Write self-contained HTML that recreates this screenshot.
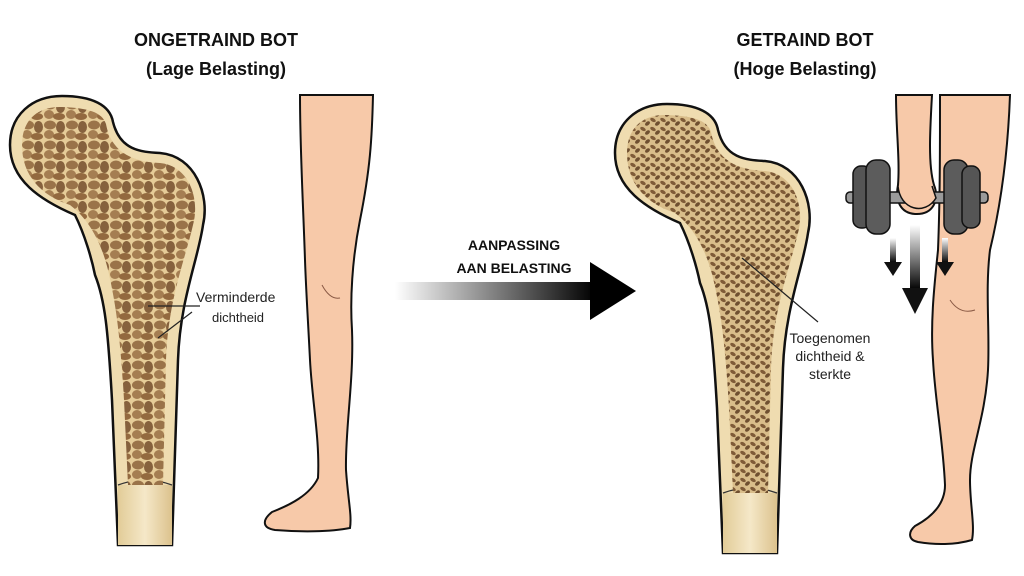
<!DOCTYPE html>
<html><head><meta charset="utf-8"><style>
html,body{margin:0;padding:0;background:#fff;width:1024px;height:576px;overflow:hidden}
svg{display:block}
text{font-family:"Liberation Sans",sans-serif}
</style></head><body>
<svg width="1024" height="576" viewBox="0 0 1024 576" xmlns="http://www.w3.org/2000/svg">
<defs>
<pattern id="sp1" width="22" height="20" patternUnits="userSpaceOnUse">
<rect width="22" height="20" fill="#e6cc98"/>
<ellipse cx="6" cy="5" rx="6" ry="4.5" fill="#9a7349"/>
<ellipse cx="16.5" cy="7" rx="4.5" ry="6" fill="#86613d"/>
<ellipse cx="5" cy="14.5" rx="5" ry="4.5" fill="#a57e52"/>
<ellipse cx="15" cy="16.5" rx="6" ry="3.5" fill="#93693f"/>
</pattern>
<pattern id="sp2" width="10" height="9" patternUnits="userSpaceOnUse">
<rect width="10" height="9" fill="#d9bd8a"/>
<ellipse cx="3" cy="3" rx="3" ry="1.8" fill="#7f5b38" transform="rotate(30 3 3)"/>
<ellipse cx="7.5" cy="6.5" rx="2.8" ry="1.8" fill="#6f4f30" transform="rotate(-40 7.5 6.5)"/>
</pattern>
<linearGradient id="ag" x1="0" x2="1" y1="0" y2="0">
<stop offset="0" stop-color="#fff"/><stop offset="1" stop-color="#000"/>
</linearGradient>
<linearGradient id="dg" x1="0" x2="0" y1="0" y2="1">
<stop offset="0" stop-color="#fff"/><stop offset="1" stop-color="#000"/>
</linearGradient>
<linearGradient id="sh" x1="0" x2="1">
<stop offset="0" stop-color="#e2cc98"/><stop offset="0.5" stop-color="#f5e8c8"/><stop offset="1" stop-color="#dcc28d"/>
</linearGradient>
<g id="bone">
<path d="M113,122 C120,150 140,152 160,153 C195,156 210,195 203,225 C198,260 180,300 178,360 L172,545 L118,545 L112,400 C108,330 105,300 95,275 C92,260 85,235 75,215 C40,200 10,180 10,145 C10,115 32,96 62,96 C92,96 110,105 113,122 Z" fill="#efdcb0" stroke="#111" stroke-width="2.5"/>
<path d="M118,485 L172,485 L172,545 L118,545 Z" fill="url(#sh)"/>
<path d="M118,485 Q145,475 172,485" fill="none" stroke="#333" stroke-width="1.2"/>
</g>
</defs>

<!-- Left bone -->
<use href="#bone"/>
<path d="M106,124 C112,157 140,162 160,163 C190,166 200,200 193,225 C185,260 168,300 166,360 L163,485 L128,485 L124,400 C120,330 115,300 108,270 C102,245 90,220 70,205 C40,195 22,175 22,145 C22,118 40,106 62,107 C88,108 102,112 106,124 Z" fill="url(#sp1)"/>

<!-- Left leg -->
<path d="M300,95 L373,95 C372,140 370,170 360,220 C352,260 350,300 352,330 C354,380 345,430 346,470 C348,500 352,515 350,528 C330,532 300,532 275,530 C262,528 262,520 272,512 C290,505 310,495 318,478 C320,440 312,400 310,360 C308,320 306,290 305,260 C303,200 300,150 300,95 Z" fill="#f7c9a9" stroke="#111" stroke-width="2"/>
<path d="M322,285 Q330,300 340,298" fill="none" stroke="#8a5a45" stroke-width="1"/>

<!-- Labels left -->
<text x="216" y="46" font-size="18" font-weight="bold" text-anchor="middle" fill="#111">ONGETRAIND BOT</text>
<text x="216" y="75" font-size="18" font-weight="bold" text-anchor="middle" fill="#111">(Lage Belasting)</text>
<text x="196" y="302" font-size="14" fill="#222">Verminderde</text>
<text x="212" y="322" font-size="13" fill="#222">dichtheid</text>
<line x1="148" y1="306" x2="200" y2="306" stroke="#222" stroke-width="1.2"/>
<line x1="192" y1="312" x2="158" y2="338" stroke="#222" stroke-width="1.2"/>

<!-- Middle arrow -->
<text x="514" y="250" font-size="14" font-weight="bold" text-anchor="middle" fill="#111">AANPASSING</text>
<text x="514" y="273" font-size="14" font-weight="bold" text-anchor="middle" fill="#111">AAN BELASTING</text>
<rect x="395" y="282" width="200" height="18" fill="url(#ag)"/>
<polygon points="590,262 636,291 590,320" fill="#000"/>

<!-- Right bone -->
<use href="#bone" transform="translate(605,8)"/>
<path d="M711,132 C717,165 745,170 765,171 C795,174 805,208 798,233 C790,268 773,308 771,368 L768,493 L733,493 L729,408 C725,338 720,308 713,278 C707,253 695,228 675,213 C645,203 627,183 627,153 C627,126 645,114 667,115 C693,116 707,120 711,132 Z" fill="url(#sp2)"/>
<text x="830" y="343" font-size="14" text-anchor="middle" fill="#222">Toegenomen</text>
<text x="830" y="361" font-size="14" text-anchor="middle" fill="#222">dichtheid &amp;</text>
<text x="830" y="379" font-size="14" text-anchor="middle" fill="#222">sterkte</text>
<line x1="742" y1="258" x2="818" y2="322" stroke="#222" stroke-width="1.2"/>

<!-- Right leg -->
<path d="M940,95 L1010,95 C1008,150 1002,200 990,250 C985,290 990,330 988,370 C985,420 970,450 970,480 C970,505 975,525 972,540 C955,545 935,545 918,542 C908,540 908,532 915,526 C930,518 945,505 945,485 C943,440 935,400 933,360 C930,320 935,280 938,250 C940,200 940,150 940,95 Z" fill="#f7c9a9" stroke="#111" stroke-width="2"/>
<path d="M950,300 Q960,315 975,310" fill="none" stroke="#8a5a45" stroke-width="1"/>
<!-- Arm -->
<path d="M896,95 L932,95 C930,130 928,165 934,185 C940,200 933,215 915,214 C900,213 895,200 898,185 C900,160 896,130 896,95 Z" fill="#f7c9a9" stroke="#111" stroke-width="2"/>

<!-- Dumbbell -->
<rect x="846" y="192" width="142" height="11" rx="4" fill="#9a9a9a" stroke="#111" stroke-width="1.5"/>
<rect x="853" y="166" width="18" height="62" rx="8" fill="#555" stroke="#111" stroke-width="1.5"/>
<rect x="866" y="160" width="24" height="74" rx="10" fill="#5c5c5c" stroke="#111" stroke-width="1.5"/>
<rect x="944" y="160" width="24" height="74" rx="10" fill="#5c5c5c" stroke="#111" stroke-width="1.5"/>
<rect x="962" y="166" width="18" height="62" rx="8" fill="#555" stroke="#111" stroke-width="1.5"/>
<path d="M898,186 C900,210 925,216 936,198 L932,186" fill="#f7c9a9" stroke="#111" stroke-width="1.5"/>

<!-- Down arrows -->
<rect x="890" y="238" width="6" height="25" fill="url(#dg)"/>
<polygon points="884,262 902,262 893,276" fill="#111"/>
<rect x="910" y="225" width="10" height="65" fill="url(#dg)"/>
<polygon points="902,288 928,288 915,314" fill="#111"/>
<rect x="942" y="238" width="6" height="25" fill="url(#dg)"/>
<polygon points="936,262 954,262 945,276" fill="#111"/>

<!-- Right titles -->
<text x="805" y="46" font-size="18" font-weight="bold" text-anchor="middle" fill="#111">GETRAIND BOT</text>
<text x="805" y="75" font-size="18" font-weight="bold" text-anchor="middle" fill="#111">(Hoge Belasting)</text>
</svg>
</body></html>
